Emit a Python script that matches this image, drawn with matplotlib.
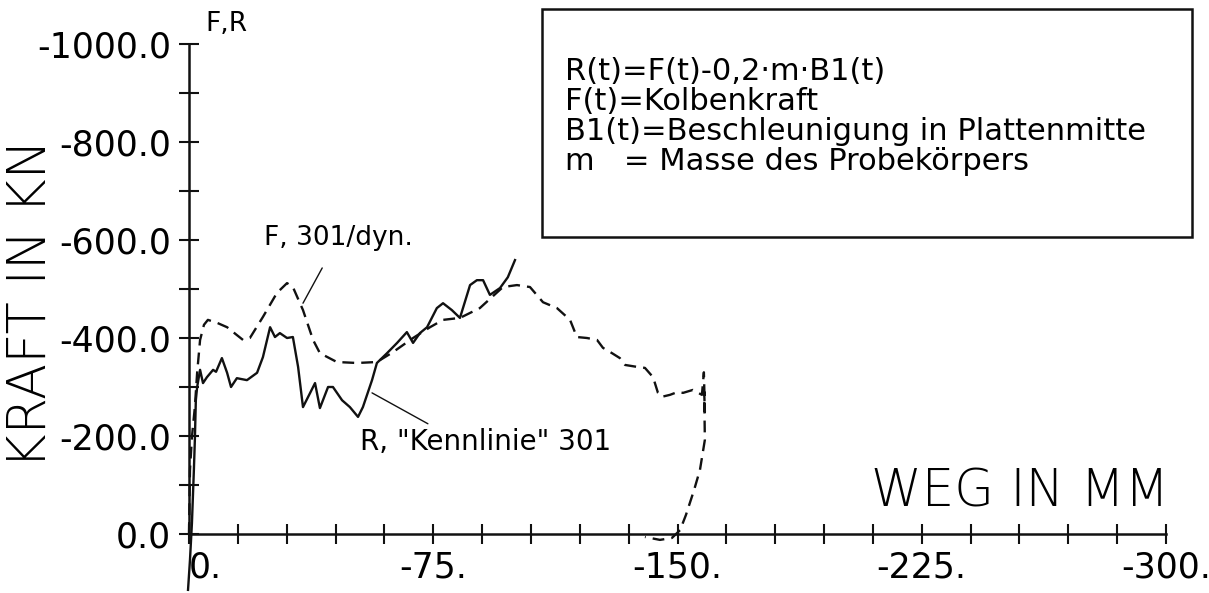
import numpy as np
import matplotlib.pyplot as plt
from matplotlib.patches import Rectangle

# Weg in mm (negativ) und Kraft in kN (negativ = Druck)
f_weg = [0, -0.3, -0.9, -1.8, -2.5, -3.4, -4.6, -5.8, -8.6, -11.7, -14.7, -16.6, -18.7,
         -22.7, -27.0, -30.1, -31.9, -35.0, -38.1, -40.2, -45.4, -51.6, -57.7, -62.6,
         -68.8, -74.0, -78.0, -83.2, -89.3, -96.4, -100.7, -104.7, -108.7, -113.0,
         -117.0, -119.1, -122.2, -125.3, -127.1, -129.9, -132.3, -133.9, -137.6,
         -140.0, -142.5, -144.0, -145.2, -147.7, -150.1, -151.7, -154.7, -157.5,
         -158.1, -158.4, -158.2, -158.4, -156.9, -155.1, -152.6, -150.8, -148.3,
         -144.6, -140.0]
f_kraft = [0, -131, -198, -259, -329, -396, -427, -437, -431, -422, -406, -396, -400,
           -443, -492, -512, -504, -457, -396, -369, -351, -349, -351, -371,
           -400, -422, -437, -441, -461, -504, -508, -504, -473, -461,
           -437, -402, -400, -396, -380, -369, -359, -345, -341,
           -339, -320, -288, -280, -284, -290, -288, -294, -284,
           -330, -250, -290, -192, -131, -90, -39, -8, 8,
           12, 6]

r_weg = [0.3, -0.3, -0.9, -1.5, -1.8, -2.1, -2.5, -3.4, -4.3, -5.5, -7.4, -8.3, -10.1,
         -11.7, -12.9, -14.7, -17.8, -20.9, -22.7, -24.9, -26.4, -27.9, -30.1, -31.9,
         -33.5, -35.0, -37.2, -38.7, -40.2, -42.7, -44.2, -47.0, -49.4, -51.9, -53.4,
         -56.2, -57.7, -60.8, -63.9, -66.9, -68.8, -70.9, -73.1, -76.1, -78.0, -80.7,
         -83.2, -86.3, -88.4, -90.3, -92.4, -95.5, -97.9, -100.1]
r_kraft = [114, 53, -22, -131, -192, -273, -300, -335, -308, -320, -335, -331, -359,
           -329, -300, -318, -314, -329, -361, -422, -402, -410, -400, -402,
           -341, -259, -288, -308, -257, -300, -300, -273, -259, -239, -259,
           -314, -349, -369, -390, -412, -390, -410, -422, -461, -471, -457,
           -441, -508, -518, -518, -488, -502, -524, -559]

x_major = [0, -75, -150, -225, -300]
x_major_labels = ['0.', '-75.', '-150.', '-225.', '-300.']
y_major = [0, -200, -400, -600, -800, -1000]
y_major_labels = ['0.0', '-200.0', '-400.0', '-600.0', '-800.0', '-1000.0']

box_lines = ['R(t)=F(t)-0,2·m·B1(t)',
             'F(t)=Kolbenkraft',
             'B1(t)=Beschleunigung in Plattenmitte',
             'm   = Masse des Probekörpers']

W, H = 1209, 593
fig = plt.figure(figsize=(W / 100, H / 100), dpi=100)
ax = fig.add_axes([189 / W, 59 / H, 977 / W, 490 / H])
ax.set_xlim(0, -300)
ax.set_ylim(0, -1000)

ink = '#111111'
ax.plot(f_weg, f_kraft, color=ink, lw=1.7, dashes=(5, 3), clip_on=False)
ax.plot(r_weg, r_kraft, color=ink, lw=1.7, clip_on=False)

for s in ['top', 'right']:
    ax.spines[s].set_visible(False)
for s in ['left', 'bottom']:
    ax.spines[s].set_linewidth(1.8)
    ax.spines[s].set_color(ink)

ax.set_xticks(x_major)
ax.set_xticklabels(x_major_labels)
ax.set_xticks(np.arange(0, -301, -15), minor=True)
ax.set_yticks(y_major)
ax.set_yticklabels(y_major_labels)
ax.set_yticks(np.arange(0, -1001, -100), minor=True)
ax.tick_params(which='both', direction='inout', length=14, width=1.5, color=ink)
ax.tick_params(axis='y', which='major', labelsize=25, pad=6)
ax.tick_params(axis='x', which='major', labelsize=25, pad=5)
ax.get_xticklabels()[0].set_ha('left')

# Beschriftungen der Kurven
ax.annotate('F, 301/dyn.', xy=(-35.0, -471), xytext=(-46, -605),
            fontsize=19, ha='center', va='center',
            arrowprops=dict(arrowstyle='-', lw=1, color=ink, shrinkA=12, shrinkB=0))
ax.annotate('R, "Kennlinie" 301', xy=(-56.2, -288), xytext=(-52.5, -188),
            fontsize=20, ha='left', va='center',
            arrowprops=dict(arrowstyle='-', lw=1, color=ink, relpos=(0.3, 1),
                            shrinkA=2, shrinkB=0))

fig.text(31 / W, 1 - 304 / H, 'KRAFT IN KN', rotation=90, fontsize=38,
         ha='center', va='center', fontweight='light')
fig.text(1020 / W, 1 - 492 / H, 'WEG IN MM', fontsize=37,
         ha='center', va='center', fontweight='light')
fig.text(205 / W, 1 - 24 / H, 'F,R', fontsize=19, ha='left', va='center')

fig.patches.append(Rectangle((542 / W, 1 - 237 / H), 650 / W, 228 / H,
                             transform=fig.transFigure, fill=False,
                             lw=1.8, edgecolor=ink))
for i, line in enumerate(box_lines):
    fig.text(565 / W, 1 - (72 + 30 * i) / H, line, fontsize=22,
             ha='left', va='center')

fig.savefig('out.png', dpi=100)
